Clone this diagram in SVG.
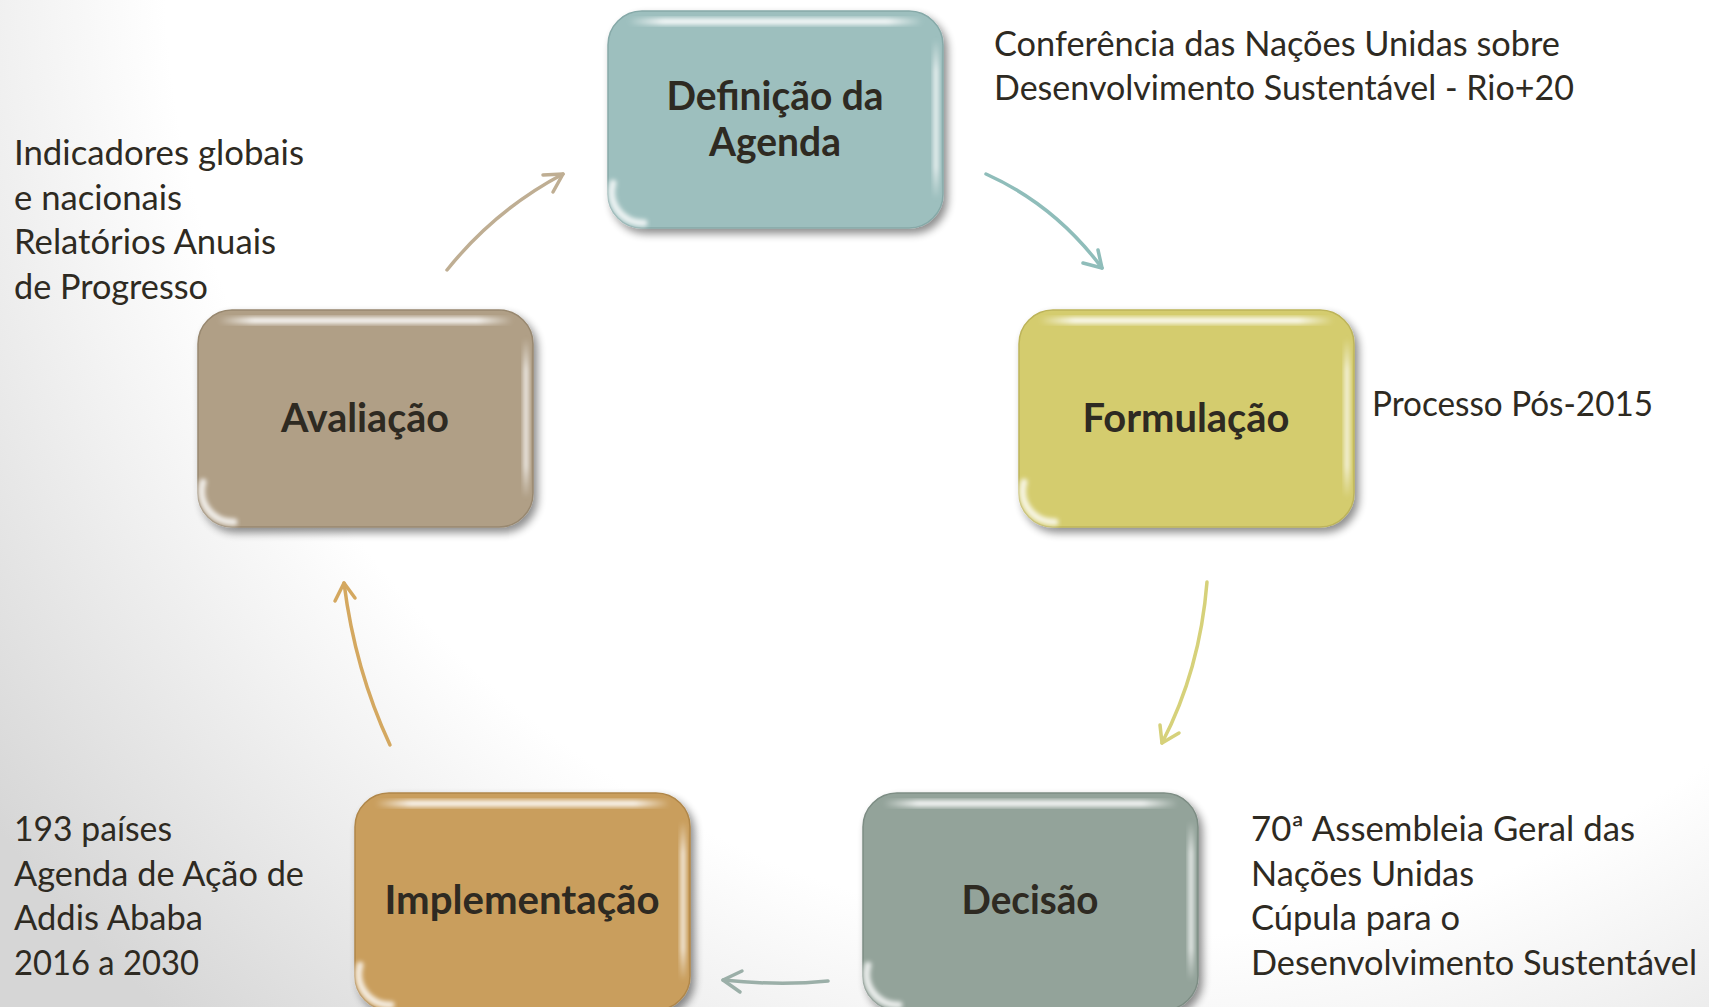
<svg xmlns="http://www.w3.org/2000/svg" xmlns:xlink="http://www.w3.org/1999/xlink" width="1709" height="1007" viewBox="0 0 1709 1007">
<style>
.lbl{font-family:Lato,"Open Sans","Liberation Sans",sans-serif;font-weight:bold;font-size:41px;fill:#2e2a22;text-anchor:middle}
.ann{font-family:Lato,"Open Sans","Liberation Sans",sans-serif;font-size:35px;fill:#2e2a22}
.conn{fill:none;stroke-width:3.5;stroke-linecap:round;stroke-linejoin:round}
.box{stroke-width:1.5}
</style>
<defs>
<radialGradient id="bg" gradientUnits="userSpaceOnUse" cx="1150" cy="-50" r="1450">
<stop offset="0.68" stop-color="#ffffff"/>
<stop offset="1" stop-color="#d6d6d6"/>
</radialGradient>
<linearGradient id="topHi" x1="0" y1="0" x2="1" y2="0">
<stop offset="0" stop-color="#ffffff" stop-opacity="0"/>
<stop offset="0.12" stop-color="#ffffff" stop-opacity="0.85"/>
<stop offset="0.88" stop-color="#ffffff" stop-opacity="0.85"/>
<stop offset="1" stop-color="#ffffff" stop-opacity="0"/>
</linearGradient>
<linearGradient id="sideHi" x1="0" y1="0" x2="0" y2="1">
<stop offset="0" stop-color="#ffffff" stop-opacity="0"/>
<stop offset="0.2" stop-color="#ffffff" stop-opacity="0.7"/>
<stop offset="0.8" stop-color="#ffffff" stop-opacity="0.7"/>
<stop offset="1" stop-color="#ffffff" stop-opacity="0"/>
</linearGradient>
<filter id="shadow" x="-10%" y="-10%" width="125%" height="130%">
<feGaussianBlur in="SourceAlpha" stdDeviation="4"/>
<feOffset dx="4" dy="5" result="b"/>
<feComponentTransfer><feFuncA type="linear" slope="0.45"/></feComponentTransfer>
<feMerge><feMergeNode/><feMergeNode in="SourceGraphic"/></feMerge>
</filter>
<filter id="soft" x="-20%" y="-20%" width="140%" height="140%">
<feGaussianBlur stdDeviation="2"/>
</filter>
<g id="gloss">
<rect x="20" y="7" width="295" height="7" rx="3.5" fill="url(#topHi)" filter="url(#soft)"/>
<rect x="325" y="28" width="6" height="160" rx="3" fill="url(#sideHi)" filter="url(#soft)"/>
<path d="M5 172 A31 31 0 0 0 36 212" stroke="#ffffff" stroke-opacity="0.8" stroke-width="7" stroke-linecap="round" filter="url(#soft)" fill="none"/>
</g>
</defs>
<rect width="1709" height="1007" fill="url(#bg)"/>

<g id="connectors">
<g stroke="#8fbdba" class="conn">
<path d="M986 174 Q1055 205 1102 268"/>
<path d="M1083 263 L1102 268 L1098 250"/>
</g>
<g stroke="#d6d17a" class="conn">
<path d="M1207 582 Q1200 670 1162 743"/>
<path d="M1160 725 L1162 743 L1179 733"/>
</g>
<g stroke="#9bafa8" class="conn">
<path d="M828 981 Q780 986 723 980"/>
<path d="M742 971 L723 980 L740 992"/>
</g>
<g stroke="#d4a860" class="conn">
<path d="M390 745 Q355 670 344 583"/>
<path d="M335 601 L344 583 L355 598"/>
</g>
<g stroke="#bfae93" class="conn">
<path d="M447 270 Q495 210 563 174"/>
<path d="M543 175 L563 174 L553 192"/>
</g>
</g>

<g id="node-definicao" transform="translate(608,11)">
<rect class="box" width="335" height="217" rx="34" fill="#9dbfbe" stroke="#86a9a8" filter="url(#shadow)"/>
<use xlink:href="#gloss"/>
<text class="lbl" x="167" y="99" textLength="217" lengthAdjust="spacingAndGlyphs">Definição da</text>
<text class="lbl" x="167" y="145" textLength="132" lengthAdjust="spacingAndGlyphs">Agenda</text>
</g>

<g id="node-formulacao" transform="translate(1019,310)">
<rect class="box" width="335" height="217" rx="34" fill="#d4cc6e" stroke="#bdb45a" filter="url(#shadow)"/>
<use xlink:href="#gloss"/>
<text class="lbl" x="167" y="122" textLength="207" lengthAdjust="spacingAndGlyphs">Formulação</text>
</g>

<g id="node-decisao" transform="translate(863,793)">
<rect class="box" width="335" height="217" rx="34" fill="#93a39a" stroke="#7d8d84" filter="url(#shadow)"/>
<use xlink:href="#gloss"/>
<text class="lbl" x="167" y="121" textLength="137" lengthAdjust="spacingAndGlyphs">Decisão</text>
</g>

<g id="node-implementacao" transform="translate(355,793)">
<rect class="box" width="335" height="217" rx="34" fill="#c99e5d" stroke="#b0874a" filter="url(#shadow)"/>
<use xlink:href="#gloss"/>
<text class="lbl" x="167" y="121" textLength="275" lengthAdjust="spacingAndGlyphs">Implementação</text>
</g>

<g id="node-avaliacao" transform="translate(198,310)">
<rect class="box" width="335" height="217" rx="34" fill="#b09f86" stroke="#988870" filter="url(#shadow)"/>
<use xlink:href="#gloss"/>
<text class="lbl" x="167" y="122" textLength="168" lengthAdjust="spacingAndGlyphs">Avaliação</text>
</g>

<g id="annotations">
<text class="ann" x="994" y="56" textLength="566" lengthAdjust="spacingAndGlyphs">Conferência das Nações Unidas sobre</text>
<text class="ann" x="994" y="100" textLength="580" lengthAdjust="spacingAndGlyphs">Desenvolvimento Sustentável - Rio+20</text>
<text class="ann" x="1372" y="416" textLength="281" lengthAdjust="spacingAndGlyphs">Processo Pós-2015</text>
<text class="ann" x="14" y="165" textLength="290" lengthAdjust="spacingAndGlyphs">Indicadores globais</text>
<text class="ann" x="14" y="210" textLength="168" lengthAdjust="spacingAndGlyphs">e nacionais</text>
<text class="ann" x="14" y="254" textLength="262" lengthAdjust="spacingAndGlyphs">Relatórios Anuais</text>
<text class="ann" x="14" y="299" textLength="194" lengthAdjust="spacingAndGlyphs">de Progresso</text>
<text class="ann" x="14" y="841" textLength="158" lengthAdjust="spacingAndGlyphs">193 países</text>
<text class="ann" x="14" y="886" textLength="290" lengthAdjust="spacingAndGlyphs">Agenda de Ação de</text>
<text class="ann" x="14" y="930" textLength="189" lengthAdjust="spacingAndGlyphs">Addis Ababa</text>
<text class="ann" x="14" y="975" textLength="185" lengthAdjust="spacingAndGlyphs">2016 a 2030</text>
<text class="ann" x="1251" y="841" textLength="384" lengthAdjust="spacingAndGlyphs">70ª Assembleia Geral das</text>
<text class="ann" x="1251" y="886" textLength="223" lengthAdjust="spacingAndGlyphs">Nações Unidas</text>
<text class="ann" x="1251" y="930" textLength="209" lengthAdjust="spacingAndGlyphs">Cúpula para o</text>
<text class="ann" x="1251" y="975" textLength="446" lengthAdjust="spacingAndGlyphs">Desenvolvimento Sustentável</text>
</g>
</svg>
